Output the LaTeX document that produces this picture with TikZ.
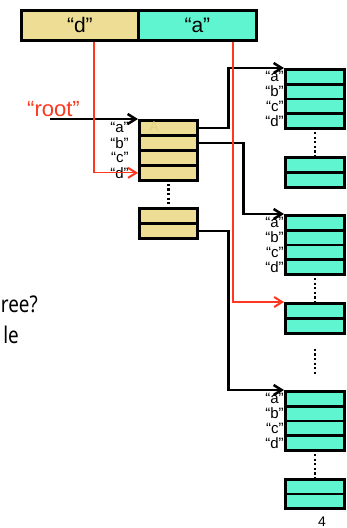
\documentclass[tikz,border=0pt]{standalone}
\usepackage{fontspec}
\usepackage{graphicx}
\setmainfont{Liberation Sans}
\newfontfamily\slidefont{Noto Sans}
\usetikzlibrary{arrows.meta,calc}
\definecolor{tanfill}{RGB}{238,221,148}
\definecolor{cyanfill}{RGB}{94,245,208}
\definecolor{myred}{RGB}{255,55,30}
\definecolor{faint}{RGB}{232,208,128}
\begin{document}
\begin{tikzpicture}[x=1pt,y=-1pt,
  cellbox/.style={draw=black, line width=2.7pt, inner sep=0pt, anchor=north west, minimum width=58pt, minimum height=15pt},
  tancell/.style={cellbox, fill=tanfill},
  cycell/.style={cellbox, fill=cyanfill, minimum width=59pt, minimum height=14.8pt},
  keylbl/.style={font=\fontsize{15}{15}\selectfont, inner sep=0.2pt, anchor=east},
  link/.style={line width=2.5pt, -{Straight Barb[length=8pt,width=10pt]}},
  redlink/.style={draw=myred, line width=1.2pt, -{Straight Barb[length=8pt,width=10pt,line width=2pt]}},
  dots/.style={line width=2.4pt, dash pattern=on 2.2pt off 2.4pt}]
\useasboundingbox (0,0) rectangle (346,528);

% top bar
\node[tancell, minimum width=117pt, minimum height=30pt, font=\fontsize{21}{21}\selectfont] (dcell) at (20,9) {“d”};
\node[cycell, minimum width=118pt, minimum height=30pt, font=\fontsize{21}{21}\selectfont] (acell) at (137,9) {“a”};

% tan root box
\node[tancell] (t1) at (138,119) {};
\node[tancell] (t2) at (138,134) {};
\node[tancell] (t3) at (138,149) {};
\node[tancell] (t4) at (138,164) {};
\node[text=faint, font=\fontsize{14}{14}\selectfont, inner sep=0pt] (faintA) at (154,126.5) {A};
\node[tancell] (u1) at (138,207) {};
\node[tancell] (u2) at (138,222) {};
\foreach \c/\l in {t1/a,t2/b,t3/c,t4/d}
  \node[keylbl, xshift=-9pt] (\c lbl) at (\c.west) {“\l”};

% cyan boxes
\foreach \g/\y in {g1/68, g2/214, g3/390} {
  \node[cycell] (\g a) at (284,\y) {};
  \node[cycell] (\g b) at (284,\y+14.8) {};
  \node[cycell] (\g c) at (284,\y+29.6) {};
  \node[cycell] (\g d) at (284,\y+44.4) {};
  \foreach \c in {a,b,c,d}
    \node[keylbl] (\g\c lbl) at (\g\c.west) {“\c”};
}
\node[cycell, minimum height=15pt] (s1a) at (284,156) {};
\node[cycell, minimum height=15pt] (s1b) at (284,171) {};
\node[cycell, minimum height=15pt] (s2a) at (284,302) {};
\node[cycell, minimum height=15pt] (s2b) at (284,317) {};
\node[cycell, minimum height=14.7pt] (s3a) at (284,478) {};
\node[cycell, minimum height=14.7pt] (s3b) at (284,492.7) {};

% dotted continuations
\draw[dots, shorten <=2pt] (t4.south) -- (u1.north);
\draw[dots, shorten <=2pt] (g1d.south) -- (s1a.north);
\draw[dots, shorten <=2pt] (g2d.south) -- (s2a.north);
\draw[dots, shorten <=14pt, shorten >=15pt] (s2b.south) -- (g3a.north);
\draw[dots, shorten <=2pt] (g3d.south) -- (s3a.north);

% root label and arrow
\node[anchor=base west, text=myred, font=\fontsize{22}{22}\selectfont, inner sep=0pt] (rootlbl) at (27,116) {“root”};
\coordinate (rootstart) at (50,119);
\draw[link] (rootstart) -- (t1.north west);

% child links
\draw[link] (t1.east) -- ++(30,0) |- (g1a.north west);
\draw[link] (t2.east) -- ++(45,0) |- (g2a.north west);
\draw[link] (u2.east) -- ++(30,0) |- (g3a.north west);

% red lookup lines
\draw[redlink] ([xshift=74pt]dcell.south west) |- (t4.west);
\draw[redlink] ([xshift=96pt]acell.south west) |- (s2a.north west);

% cut-off slide text
\node[anchor=base east, inner sep=0pt, font=\slidefont\fontsize{23}{23}\selectfont] (txtone) at (38,312) {\scalebox{0.82}[1]{ree?}};
\node[anchor=base east, inner sep=0pt, font=\slidefont\fontsize{23}{23}\selectfont] (txttwo) at (19,343.7) {\scalebox{0.82}[1]{le}};

% page number
\node[font=\fontsize{14}{14}\selectfont, inner sep=0pt, anchor=base] (pagenum) at (322,526.5) {4};
\end{tikzpicture}
\end{document}
